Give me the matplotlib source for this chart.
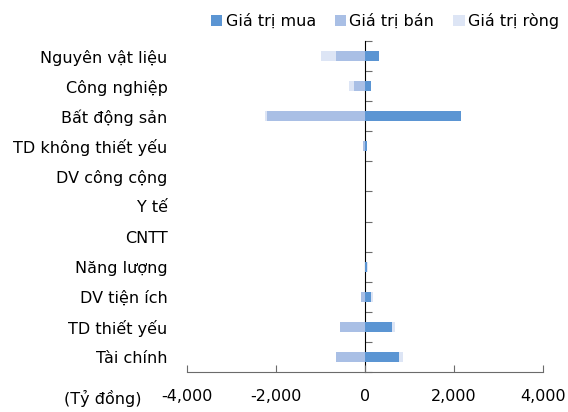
import numpy as np
import matplotlib
matplotlib.use("Agg")
import matplotlib.pyplot as plt
from matplotlib.ticker import FuncFormatter

# categories listed top to bottom
categories = ["Nguyên vật liệu", "Công nghiệp", "Bất động sản", "TD không thiết yếu",
              "DV công cộng", "Y tế", "CNTT", "Năng lượng", "DV tiện ích",
              "TD thiết yếu", "Tài chính"]
buy = [315, 135, 2150, 35, 0, 0, 0, 35, 135, 615, 757]
sell = [-650, -250, -2200, -45, 0, 0, 0, -5, -90, -555, -650]
net = [-335, -115, -50, -10, 0, 0, 0, 30, 45, 60, 107]
xticks = [-4000, -2000, 0, 2000, 4000]

c_buy = "#5B95D3"
c_sell = "#A9BFE5"
c_net = "#DDE5F5"
axis_col = "#6B6B6B"

plt.rcParams["font.family"] = ["DejaVu Sans"]
plt.rcParams["font.size"] = 11.5

fig = plt.figure(figsize=(5.68, 4.12), dpi=100)
ax = fig.add_axes([187 / 568, 1 - 372 / 412, 356 / 568, 331 / 412])

n = len(categories)
y = np.arange(n)[::-1].astype(float)
buy = np.array(buy, dtype=float)
sell = np.array(sell, dtype=float)
net = np.array(net, dtype=float)
h = 0.33

ax.barh(y, buy, height=h, color=c_buy, label="Giá trị mua", zorder=2)
ax.barh(y, sell, height=h, color=c_sell, label="Giá trị bán", zorder=2)
net_left = np.where(net >= 0, buy, sell)
ax.barh(y, net, left=net_left, height=h, color=c_net, label="Giá trị ròng", zorder=2)

ax.set_xlim(xticks[0], xticks[-1])
ax.set_ylim(-0.5, n - 0.5)
ax.set_xticks(xticks)
ax.xaxis.set_major_formatter(FuncFormatter(lambda v, p: f"{v:,.0f}"))
ax.tick_params(axis="x", direction="in", length=5, color=axis_col, pad=12)

ax.set_yticks(y)
ax.set_yticklabels(categories)
ax.tick_params(axis="y", length=0, pad=14)

for s in ["top", "right", "left"]:
    ax.spines[s].set_visible(False)
ax.spines["bottom"].set_color(axis_col)

# vertical axis line at zero with ticks between categories
sec = ax.secondary_yaxis(0.5)
sec.set_yticks(np.arange(n + 1) - 0.5)
sec.set_yticklabels([])
sec.tick_params(direction="out", length=5, color=axis_col)
sec.spines["left"].set_color(axis_col)
sec.spines["left"].set_linewidth(1.2)

fig.text(142 / 568, 1 - 398 / 412, "(Tỷ đồng)", ha="right", va="center")

fig.legend(loc="center", bbox_to_anchor=(385 / 568, 1 - 21 / 412), ncol=3, frameon=False,
           handlelength=0.7, handleheight=0.7, handletextpad=0.2, columnspacing=1.2,
           borderaxespad=0)

fig.savefig("out.png", dpi=100)
